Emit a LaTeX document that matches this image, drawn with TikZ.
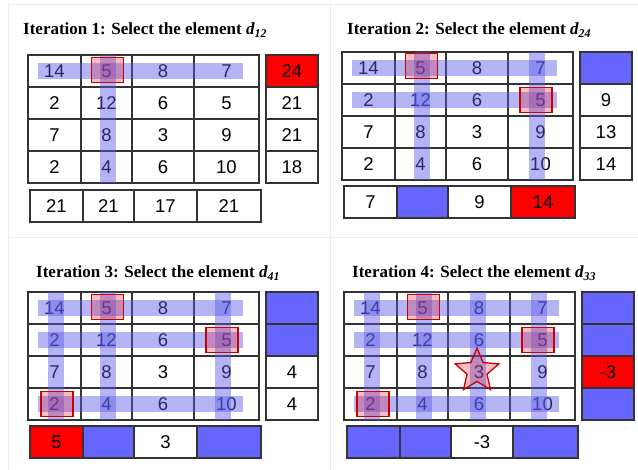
\documentclass[tikz,border=0pt]{standalone}
\usepackage{fontspec}
\setmainfont{Liberation Serif}
\newfontfamily\numfont{Liberation Sans}
\usetikzlibrary{shapes.geometric}
\definecolor{cellblue}{RGB}{102,102,255}
\definecolor{barblue}{RGB}{90,90,235}
\definecolor{sqred}{RGB}{200,0,0}
\definecolor{sqfill}{RGB}{220,40,60}
\definecolor{panelline}{RGB}{236,236,236}
\tikzset{
  cell/.style={draw=black!80, line width=1.1pt, minimum height=32pt, inner sep=0pt,
    font=\numfont\fontsize{18.5}{21}\selectfont},
  bluecell/.style={cell, fill=cellblue},
  redcell/.style={cell, fill=red},
  bar/.style={fill=barblue, fill opacity=0.45},
  redsq/.style={draw=sqred, line width=1.3pt, fill=sqfill, fill opacity=0.3,
    minimum width=32pt, minimum height=25pt, inner sep=0pt},
  redstar/.style={star, star points=5, star point ratio=2.2, minimum size=46pt,
    draw=sqred, line width=1.3pt, fill=sqfill, fill opacity=0.3, inner sep=0pt},
  title/.style={anchor=base west, inner sep=0pt, font=\bfseries\fontsize{17}{20}\selectfont},
  panelsep/.style={draw=panelline, line width=1pt}
}
\newcommand\matcells[1]{%
  \foreach \ri/\va/\vb/\vc/\vd in {1/14/5/8/7,2/2/12/6/5,3/7/8/3/9,4/2/4/6/10}{
    \node[cell, minimum width=53pt] (#1m\ri1) at (26.5,32*\ri-16) {\va};
    \node[cell, minimum width=51pt] (#1m\ri2) at (78.5,32*\ri-16) {\vb};
    \node[cell, minimum width=62pt] (#1m\ri3) at (135,32*\ri-16) {\vc};
    \node[cell, minimum width=65pt] (#1m\ri4) at (198.5,32*\ri-16) {\vd};
  }}
\newcommand\hbarrow[1]{\fill[bar] (10,32*#1-24) rectangle (215,32*#1-8);}
\newcommand\vbarcol[1]{\fill[bar] (#1-8,0) rectangle (#1+8,128);}
\begin{document}
\begin{tikzpicture}[x=1pt,y=-1pt]
\useasboundingbox (0,0) rectangle (638,470);
\fill[white] (0,0) rectangle (638,470);
% panel separators
\draw[panelsep] (8,5) -- (638,5);
\draw[panelsep] (8,238) -- (638,238);
\draw[panelsep] (8,5) -- (8,470);
\draw[panelsep] (330,5) -- (330,470);
% titles
\node[title] (t1) at (23,35) {Iteration 1: Select the element \textit{d}\textsubscript{\textit{12}}};
\node[title] (t2) at (347,35) {Iteration 2: Select the element \textit{d}\textsubscript{\textit{24}}};
\node[title] (t3) at (36,278) {Iteration 3: Select the element \textit{d}\textsubscript{\textit{41}}};
\node[title] (t4) at (352,278) {Iteration 4: Select the element \textit{d}\textsubscript{\textit{33}}};
% ---------------- panel 1
\begin{scope}[shift={(28,55)}]
  \matcells{p1}
  \node[redcell, minimum width=52pt] (p1r1) at (264,16) {24};
  \node[cell, minimum width=52pt] (p1r2) at (264,48) {21};
  \node[cell, minimum width=52pt] (p1r3) at (264,80) {21};
  \node[cell, minimum width=52pt] (p1r4) at (264,112) {18};
  \node[cell, minimum width=53pt] (p1b1) at (28.5,151) {21};
  \node[cell, minimum width=51pt] (p1b2) at (80.5,151) {21};
  \node[cell, minimum width=63pt] (p1b3) at (137.5,151) {17};
  \node[cell, minimum width=64pt] (p1b4) at (201,151) {21};
  \hbarrow{1}
  \vbarcol{79.5}
  \node[redsq] (p1s1) at (79.5,15) {};
\end{scope}
% ---------------- panel 2
\begin{scope}[shift={(342,52)}]
  \matcells{p2}
  \node[bluecell, minimum width=52pt] (p2r1) at (264,16) {};
  \node[cell, minimum width=52pt] (p2r2) at (264,48) {9};
  \node[cell, minimum width=52pt] (p2r3) at (264,80) {13};
  \node[cell, minimum width=52pt] (p2r4) at (264,112) {14};
  \node[cell, minimum width=53pt] (p2b1) at (28.5,150) {7};
  \node[bluecell, minimum width=51pt] (p2b2) at (80.5,150) {};
  \node[cell, minimum width=63pt] (p2b3) at (137.5,150) {9};
  \node[redcell, minimum width=64pt] (p2b4) at (201,150) {14};
  \hbarrow{1}
  \hbarrow{2}
  \vbarcol{79.5}
  \vbarcol{195}
  \node[redsq] (p2s1) at (79.5,14) {};
  \node[redsq] (p2s2) at (194,48) {};
\end{scope}
% ---------------- panel 3
\begin{scope}[shift={(28,292)}]
  \matcells{p3}
  \node[bluecell, minimum width=52pt] (p3r1) at (264,16) {};
  \node[bluecell, minimum width=52pt] (p3r2) at (264,48) {};
  \node[cell, minimum width=52pt] (p3r3) at (264,80) {4};
  \node[cell, minimum width=52pt] (p3r4) at (264,112) {4};
  \node[redcell, minimum width=53pt] (p3b1) at (28.5,150) {5};
  \node[bluecell, minimum width=51pt] (p3b2) at (80.5,150) {};
  \node[cell, minimum width=63pt] (p3b3) at (137.5,150) {3};
  \node[bluecell, minimum width=64pt] (p3b4) at (201,150) {};
  \hbarrow{1}
  \hbarrow{2}
  \hbarrow{4}
  \vbarcol{27.5}
  \vbarcol{79.5}
  \vbarcol{195}
  \node[redsq] (p3s1) at (79.5,15) {};
  \node[redsq] (p3s2) at (194,48) {};
  \node[redsq] (p3s3) at (29,112) {};
\end{scope}
% ---------------- panel 4
\begin{scope}[shift={(344,292)}]
  \matcells{p4}
  \node[bluecell, minimum width=52pt] (p4r1) at (264,16) {};
  \node[bluecell, minimum width=52pt] (p4r2) at (264,48) {};
  \node[redcell, minimum width=52pt] (p4r3) at (264,80) {-3};
  \node[bluecell, minimum width=52pt] (p4r4) at (264,112) {};
  \node[bluecell, minimum width=53pt] (p4b1) at (29.5,150) {};
  \node[bluecell, minimum width=51pt] (p4b2) at (81.5,150) {};
  \node[cell, minimum width=62pt] (p4b3) at (138,150) {-3};
  \node[bluecell, minimum width=65pt] (p4b4) at (201.5,150) {};
  \hbarrow{1}
  \hbarrow{2}
  \hbarrow{4}
  \vbarcol{27.5}
  \vbarcol{79.5}
  \vbarcol{133.5}
  \vbarcol{195}
  \node[redsq] (p4s1) at (79.5,15) {};
  \node[redsq] (p4s2) at (194,48) {};
  \node[redsq] (p4s3) at (29,112) {};
  \node[redstar] (p4star) at (133,79) {};
\end{scope}
\end{tikzpicture}
\end{document}
